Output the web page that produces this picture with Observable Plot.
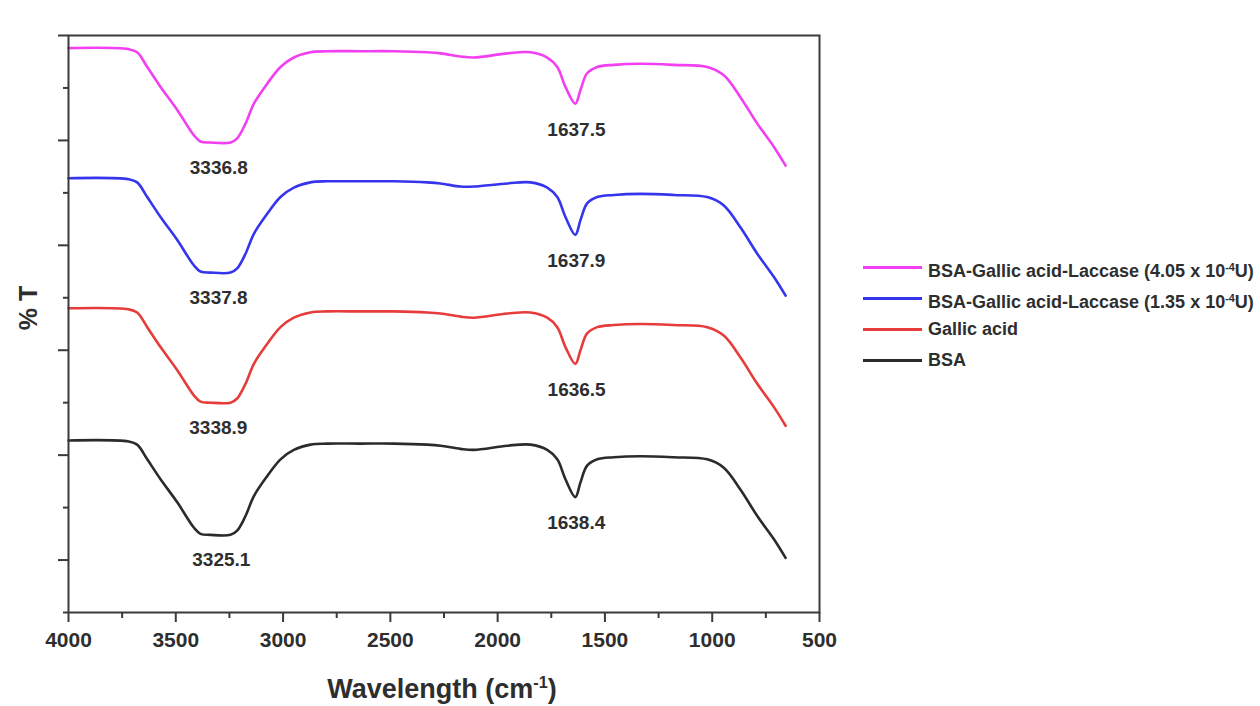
<!DOCTYPE html>
<html>
<head>
<meta charset="utf-8">
<script src="https://cdn.jsdelivr.net/npm/d3@7"></script>
<script src="https://cdn.jsdelivr.net/npm/@observablehq/plot@0.6"></script>
<style>
  html, body { margin: 0; padding: 0; background: #fff; }
  #wrap { position: relative; width: 1260px; height: 706px; font-family: "Liberation Sans", Arial, sans-serif; font-weight: bold; color: #2e2e2e; }
  #wrap svg { position: absolute; left: 0; top: 0; }
  .ttl { position: absolute; white-space: nowrap; }
  .ttl sup { font-size: 60%; }
  #legend { position: absolute; left: 863px; top: 257px; }
  .row { position: absolute; left: 0; height: 20px; white-space: nowrap; font-size: 18px; }
  .row .sw { position: absolute; left: 0; top: 8.5px; width: 59px; height: 3px; }
  .row .lab { position: absolute; left: 65px; top: 0; line-height: 20px; }
  .row sup { font-size: 60%; vertical-align: 6px; }
</style>
</head>
<body>
<div id="wrap"></div>
<script>
// Wavenumber grid (cm^-1)
const wavenumbers = [4000, 3720, 3680, 3633, 3571, 3493, 3416, 3385, 3338, 3245, 3214, 3175, 3136, 3074, 3012, 2950, 2872, 2795, 2640, 2484, 2328, 2266, 2173, 2111, 1955, 1847, 1769, 1722, 1684, 1638, 1614, 1583, 1536, 1459, 1334, 1179, 1023, 946, 868, 790, 713, 658];

// %T (stacked, arbitrary units)
const laccase405 = [5.38, 5.37, 5.34, 5.20, 5.01, 4.79, 4.55, 4.49, 4.48, 4.48, 4.52, 4.66, 4.85, 5.04, 5.20, 5.29, 5.34, 5.35, 5.35, 5.35, 5.34, 5.33, 5.30, 5.29, 5.33, 5.34, 5.29, 5.20, 5.01, 4.85, 4.98, 5.14, 5.20, 5.22, 5.23, 5.22, 5.20, 5.12, 4.91, 4.66, 4.44, 4.26];
const laccase135 = [4.14, 4.13, 4.10, 3.96, 3.77, 3.55, 3.31, 3.25, 3.24, 3.24, 3.28, 3.42, 3.61, 3.80, 3.96, 4.05, 4.10, 4.11, 4.11, 4.11, 4.10, 4.09, 4.06, 4.06, 4.09, 4.10, 4.05, 3.96, 3.77, 3.60, 3.74, 3.90, 3.96, 3.98, 3.99, 3.98, 3.96, 3.88, 3.67, 3.42, 3.20, 3.02];
const gallicAcid = [2.90, 2.89, 2.86, 2.72, 2.53, 2.31, 2.07, 2.01, 2.00, 2.00, 2.04, 2.18, 2.37, 2.56, 2.72, 2.81, 2.86, 2.87, 2.87, 2.87, 2.86, 2.85, 2.82, 2.81, 2.85, 2.86, 2.81, 2.72, 2.53, 2.37, 2.50, 2.66, 2.72, 2.74, 2.75, 2.74, 2.72, 2.64, 2.43, 2.18, 1.96, 1.78];
const bsa = [1.64, 1.63, 1.60, 1.46, 1.27, 1.05, 0.81, 0.75, 0.74, 0.74, 0.78, 0.92, 1.11, 1.30, 1.46, 1.55, 1.60, 1.61, 1.61, 1.61, 1.60, 1.59, 1.56, 1.55, 1.59, 1.60, 1.55, 1.46, 1.27, 1.10, 1.24, 1.40, 1.46, 1.48, 1.49, 1.48, 1.46, 1.38, 1.17, 0.92, 0.70, 0.52];

const seriesNames = [
  "BSA-Gallic acid-Laccase (4.05 x 10-4U)",
  "BSA-Gallic acid-Laccase (1.35 x 10-4U)",
  "Gallic acid",
  "BSA"
];
const seriesLegendHtml = [
  "BSA-Gallic acid-Laccase (4.05 x 10<sup>-4</sup>U)",
  "BSA-Gallic acid-Laccase (1.35 x 10<sup>-4</sup>U)",
  "Gallic acid",
  "BSA"
];
const seriesColors = ["#f23ff2", "#3535ee", "#e63c3c", "#2b2b2b"];
const seriesValues = [laccase405, laccase135, gallicAcid, bsa];

// Peak annotations: [OH/NH band, amide I band]
const peakOH = [3336.8, 3337.8, 3338.9, 3325.1];
const peakAmide = [1637.5, 1637.9, 1636.5, 1638.4];

const xMajorTicks = [4000, 3500, 3000, 2500, 2000, 1500, 1000, 500];
const xMinorTicks = [3750, 3250, 2750, 2250, 1750, 1250, 750];
const yMajorTicks = [0.5, 1.5, 2.5, 3.5, 4.5, 5.5];
const yMinorTicks = [0, 1, 2, 3, 4, 5];

const lineData = [];
seriesValues.forEach((vals, s) => {
  vals.forEach((v, i) => lineData.push({series: seriesNames[s], wn: wavenumbers[i], t: v}));
});

function minIn(vals, lo, hi) {
  let m = Infinity;
  vals.forEach((v, i) => { if (wavenumbers[i] >= lo && wavenumbers[i] <= hi) m = Math.min(m, v); });
  return m;
}
const labelsOH = seriesValues.map((vals, s) => ({wn: peakOH[s], t: minIn(vals, 3000, 3500), text: peakOH[s].toFixed(1)}));
const labelsAmide = seriesValues.map((vals, s) => ({wn: peakAmide[s], t: minIn(vals, 1550, 1700), text: peakAmide[s].toFixed(1)}));

const axisColor = "#3a3a3a";

const chart = Plot.plot({
  width: 1260,
  height: 706,
  marginLeft: 68,
  marginRight: 441,
  marginTop: 35,
  marginBottom: 94,
  style: {background: "transparent", fontFamily: "'Liberation Sans', Arial, sans-serif", color: axisColor, overflow: "visible"},
  x: {domain: [4000, 500], label: null},
  y: {domain: [0, 5.5], label: null},
  color: {domain: seriesNames, range: seriesColors},
  marks: [
    Plot.line(lineData, {x: "wn", y: "t", z: "series", stroke: "series", strokeWidth: 2.6, curve: "catmull-rom"}),
    Plot.text(labelsOH, {x: "wn", y: "t", text: "text", dx: 8, dy: 25, fontSize: 19, fontWeight: "bold", fill: "#2e2e2e"}),
    Plot.text(labelsAmide, {x: "wn", y: "t", text: "text", dx: 1, dy: 26, fontSize: 19, fontWeight: "bold", fill: "#2e2e2e"}),
    Plot.frame({stroke: axisColor, strokeWidth: 2}),
    Plot.axisX({ticks: xMajorTicks, tickSize: 10, tickPadding: 10, tickFormat: d => String(d), fontSize: 21, fontWeight: "bold", strokeWidth: 2, stroke: axisColor, fill: "#2e2e2e", label: null}),
    Plot.axisX({ticks: xMinorTicks, tickSize: 6, tickFormat: () => "", strokeWidth: 2, stroke: axisColor, label: null}),
    Plot.axisY({ticks: yMajorTicks, tickSize: 10, tickFormat: () => "", strokeWidth: 2, stroke: axisColor, label: null}),
    Plot.axisY({ticks: yMinorTicks, tickSize: 5, tickFormat: () => "", strokeWidth: 2, stroke: axisColor, label: null})
  ]
});

const wrap = document.getElementById("wrap");
wrap.appendChild(chart);

// Axis titles
const xt = document.createElement("div");
xt.className = "ttl";
xt.style.cssText = "left:442px;top:689px;transform:translate(-50%,-50%);font-size:27px;";
xt.innerHTML = "Wavelength (cm<sup>-1</sup>)";
wrap.appendChild(xt);

const yt = document.createElement("div");
yt.className = "ttl";
yt.style.cssText = "left:28px;top:308px;transform:translate(-50%,-50%) rotate(-90deg);font-size:25px;";
yt.textContent = "% T";
wrap.appendChild(yt);

// Legend
const legend = document.createElement("div");
legend.id = "legend";
const rowTops = [0, 31, 62, 93];
seriesNames.forEach((name, i) => {
  const row = document.createElement("div");
  row.className = "row";
  row.style.top = rowTops[i] + "px";
  row.innerHTML = `<div class="sw" style="background:${seriesColors[i]}"></div><div class="lab">${seriesLegendHtml[i]}</div>`;
  legend.appendChild(row);
});
wrap.appendChild(legend);
</script>
</body>
</html>
